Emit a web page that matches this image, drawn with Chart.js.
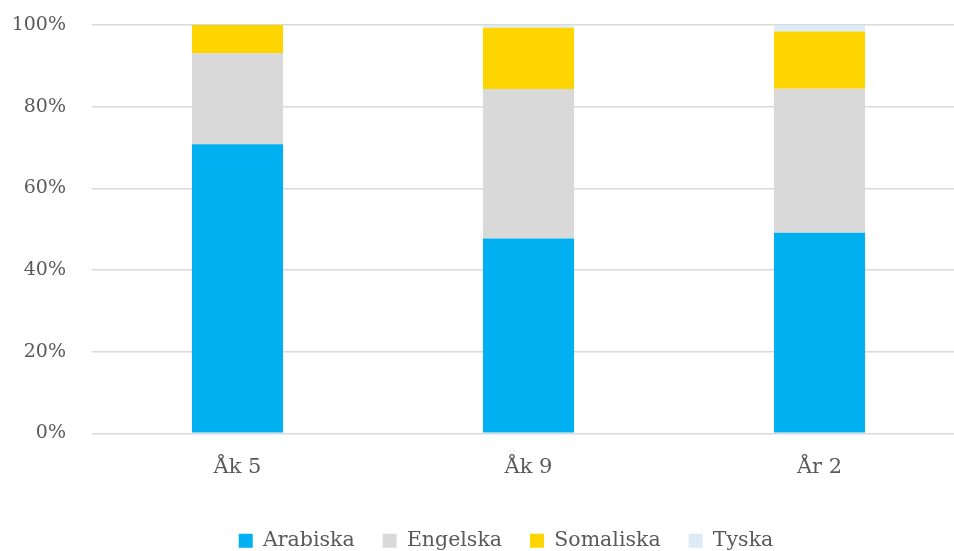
<!DOCTYPE html>
<html>
<head>
<meta charset="utf-8">
<script src="https://cdn.jsdelivr.net/npm/chart.js@4"></script>
<style>
  html, body { margin: 0; padding: 0; background: #fff; overflow: hidden; }
  #wrap { width: 1012px; height: 551px; position: relative; }
</style>
</head>
<body>
<div id="wrap"><canvas id="c"></canvas></div>
<script>
const categories = ['Åk 5', 'Åk 9', 'År 2'];
const arabiska  = [70.8, 47.7, 49.1];
const engelska  = [22.3, 36.6, 35.3];
const somaliska = [6.9, 15.0, 14.0];
const tyska     = [0, 0.7, 1.6];
const yTicks    = [0, 20, 40, 60, 80, 100];

const textColor = '#595959';
const fontFam = "'DejaVu Serif', serif";

new Chart(document.getElementById('c'), {
  type: 'bar',
  data: {
    labels: categories,
    datasets: [
      { label: 'Arabiska',  data: arabiska,  backgroundColor: '#00B0F0' },
      { label: 'Engelska',  data: engelska,  backgroundColor: '#D9D9D9' },
      { label: 'Somaliska', data: somaliska, backgroundColor: '#FFD500' },
      { label: 'Tyska',     data: tyska,     backgroundColor: '#DDEBF7' }
    ]
  },
  options: {
    responsive: true,
    maintainAspectRatio: false,
    animation: false,
    layout: { padding: { top: 25, left: 0, right: 0, bottom: -10 } },
    datasets: { bar: { categoryPercentage: 1, barPercentage: 0.313, borderWidth: 0 } },
    plugins: {
      tooltip: { enabled: false },
      legend: {
        position: 'bottom',
        labels: {
          boxWidth: 14, boxHeight: 14, padding: 28,
          color: textColor,
          font: { family: fontFam, size: 20.5 }
        }
      }
    },
    scales: {
      x: {
        stacked: true,
        grid: { display: false, drawTicks: false },
        border: { display: false },
        ticks: { color: textColor, padding: 22, font: { family: fontFam, size: 21 } }
      },
      y: {
        stacked: true,
        min: 0, max: 100,
        afterFit: s => { s.width = 92; },
        afterBuildTicks: s => { s.ticks = yTicks.map(v => ({ value: v })); },
        grid: { color: '#D9D9D9', lineWidth: 1.4, drawTicks: true, tickLength: 26, tickColor: 'rgba(0,0,0,0)' },
        border: { display: false },
        ticks: { color: textColor, padding: 0, font: { family: fontFam, size: 19 },
                 callback: v => v + '%' }
      },
      yr: {
        position: 'right',
        display: true,
        afterFit: s => { s.width = 47; },
        grid: { display: false, drawTicks: false },
        border: { display: false },
        ticks: { display: false, padding: 0 }
      }
    }
  }
});
</script>
</body>
</html>
